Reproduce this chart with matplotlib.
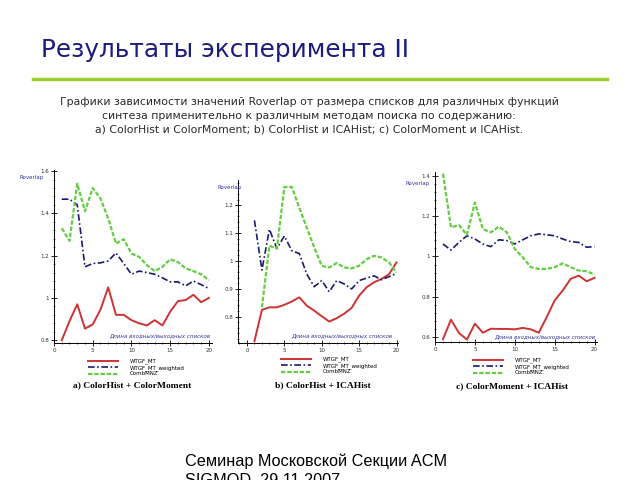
import matplotlib
matplotlib.use('Agg')
import matplotlib.pyplot as plt
from matplotlib.lines import Line2D
from matplotlib.ticker import FuncFormatter, MultipleLocator
import numpy as np

# list sizes (x axis)
sizes = list(range(1, 21))

# a) ColorHist + ColorMoment
a_wtgf = [0.80, 0.89, 0.97, 0.855, 0.875, 0.945, 1.05, 0.92, 0.92, 0.895,
          0.88, 0.87, 0.895, 0.87, 0.935, 0.985, 0.99, 1.015, 0.98, 1.0]
a_weighted = [1.467, 1.467, 1.44, 1.147, 1.163, 1.166, 1.175, 1.213, 1.163, 1.112,
              1.127, 1.12, 1.112, 1.095, 1.076, 1.076, 1.057, 1.08, 1.063, 1.044]
a_comb = [1.33, 1.27, 1.54, 1.41, 1.52, 1.47, 1.376, 1.257, 1.278, 1.21,
          1.194, 1.155, 1.127, 1.147, 1.183, 1.17, 1.14, 1.127, 1.112, 1.084]

# b) ColorHist + ICAHist
b_wtgf = [0.712, 0.824, 0.833, 0.833, 0.842, 0.854, 0.869, 0.839, 0.821, 0.801,
          0.782, 0.794, 0.81, 0.831, 0.875, 0.905, 0.923, 0.935, 0.952, 0.994]
b_weighted = [1.145, 0.967, 1.113, 1.044, 1.089, 1.036, 1.026, 0.952, 0.907, 0.929,
              0.889, 0.929, 0.917, 0.899, 0.929, 0.938, 0.946, 0.932, 0.943, 0.955]
b_comb = [np.nan, 0.833, 1.054, 1.044, 1.265, 1.265, 1.19, 1.119, 1.048, 0.982,
          0.976, 0.992, 0.976, 0.973, 0.982, 1.006, 1.018, 1.012, 0.994, 0.958]

# c) ColorMoment + ICAHist
c_wtgf = [0.589, 0.686, 0.62, 0.587, 0.666, 0.621, 0.641, 0.64, 0.64, 0.638,
          0.645, 0.638, 0.621, 0.699, 0.782, 0.831, 0.889, 0.905, 0.877, 0.894]
c_weighted = [1.062, 1.032, 1.07, 1.103, 1.087, 1.062, 1.049, 1.083, 1.079, 1.062,
              1.083, 1.103, 1.112, 1.108, 1.103, 1.087, 1.074, 1.07, 1.046, 1.049]
c_comb = [1.412, 1.145, 1.156, 1.108, 1.268, 1.136, 1.12, 1.148, 1.12, 1.037,
          0.996, 0.947, 0.938, 0.938, 0.947, 0.966, 0.947, 0.93, 0.927, 0.91]

series_names = ['WTGF_MT', 'WTGF_MT_weighted', 'CombMNZ']
captions = ['a) ColorHist + ColorMoment', 'b) ColorHist + ICAHist', 'c) ColorMoment + ICAHist']

W, H = 640, 480
fig = plt.figure(figsize=(6.4, 4.8), dpi=100)
fig.patch.set_facecolor('white')


def px(x, y):
    # pixel position -> figure fraction
    return x / W, 1 - y / H


################# Slide header #################
fig.text(*px(41, 57), 'Результаты эксперимента II', fontsize=17.8, color='#1c1c7c',
         family='DejaVu Sans', va='baseline', ha='left')
fig.add_artist(Line2D([33 / W, 607 / W], [1 - 79 / H, 1 - 79 / H], color='#9acd32', lw=2.5))

sub = ('Графики зависимости значений Roverlap от размера списков для различных функций\n'
       'синтеза применительно к различным методам поиска по содержанию:\n'
       'a) ColorHist и ColorMoment; b) ColorHist и ICAHist; c) ColorMoment и ICAHist.')
fig.text(*px(309, 116), sub, fontsize=7.8, color='#2a2a2a', ha='center', va='center',
         family='DejaVu Sans', linespacing=1.45)

fig.text(*px(185, 466), 'Семинар Московской Секции ACM', fontsize=11.7,
         family='Liberation Sans', va='baseline', ha='left')
fig.text(*px(185, 485), 'SIGMOD, 29.11.2007', fontsize=11.7,
         family='Liberation Sans', va='baseline', ha='left')


################# Panels #################
def fmt(v, pos):
    return '%g' % round(v, 2)


def panel(rect, xlim, ylim, ystep, wtgf, weighted, comb, caption,
          rov_xy, dl_xy, leg_xy, cap_xy):
    ax = fig.add_axes(rect)
    l1, = ax.plot(sizes, wtgf, color='#cc3333', lw=1.4)
    l2, = ax.plot(sizes, weighted, color='#1a1a6e', lw=1.2, linestyle=(0, (4, 1.5, 1, 1.5)))
    l3, = ax.plot(sizes, comb, color='#66cc44', lw=1.6, linestyle=(0, (2, 0.8)))
    ax.set_xlim(*xlim)
    ax.set_ylim(*ylim)
    for s in ['top', 'right']:
        ax.spines[s].set_visible(False)
    for s in ['left', 'bottom']:
        ax.spines[s].set_linewidth(0.7)
    ax.xaxis.set_major_locator(MultipleLocator(5))
    ax.xaxis.set_minor_locator(MultipleLocator(1))
    ax.yaxis.set_major_locator(MultipleLocator(ystep))
    ax.yaxis.set_minor_locator(MultipleLocator(ystep / 5))
    ax.yaxis.set_major_formatter(FuncFormatter(fmt))
    ax.tick_params(which='major', direction='inout', length=4, width=0.6, labelsize=4,
                   pad=1.5, labelcolor='#333333')
    ax.tick_params(which='minor', direction='inout', length=2, width=0.5)
    ax.patch.set_alpha(0)

    fig.text(*px(*rov_xy), 'Roverlap', fontsize=4, color='#33339a', va='center')
    fig.text(*px(*dl_xy), 'Длина входных/выходных списков', fontsize=4, color='#33339a',
             va='center', ha='right', style='italic')
    ax.legend([l1, l2, l3], series_names, loc='upper left',
              bbox_to_anchor=px(*leg_xy), bbox_transform=fig.transFigure,
              fontsize=4, handlelength=5.4, labelspacing=0.12, frameon=False,
              borderpad=0, handletextpad=2.2)
    fig.text(*px(*cap_xy), caption, fontsize=6.8, weight='bold', family='Liberation Serif',
             ha='left', va='center')
    return ax


panel([54 / W, 1 - 343 / H, 158 / W, 173 / H], (0, 20.4), (0.787, 1.605), 0.2,
      a_wtgf, a_weighted, a_comb, captions[0],
      (20, 178), (210, 336), (85, 356), (73, 385))
panel([238 / W, 1 - 343 / H, 160 / W, 163 / H], (-1.2, 20.2), (0.705, 1.29), 0.1,
      b_wtgf, b_weighted, b_comb, captions[1],
      (218, 187), (392, 336), (278, 354), (275, 385))
panel([435 / W, 1 - 342 / H, 162 / W, 170 / H], (0, 20.3), (0.575, 1.42), 0.2,
      c_wtgf, c_weighted, c_comb, captions[2],
      (405, 184), (595, 337), (470, 355), (456, 386))

plt.savefig('out.png', dpi=100)
